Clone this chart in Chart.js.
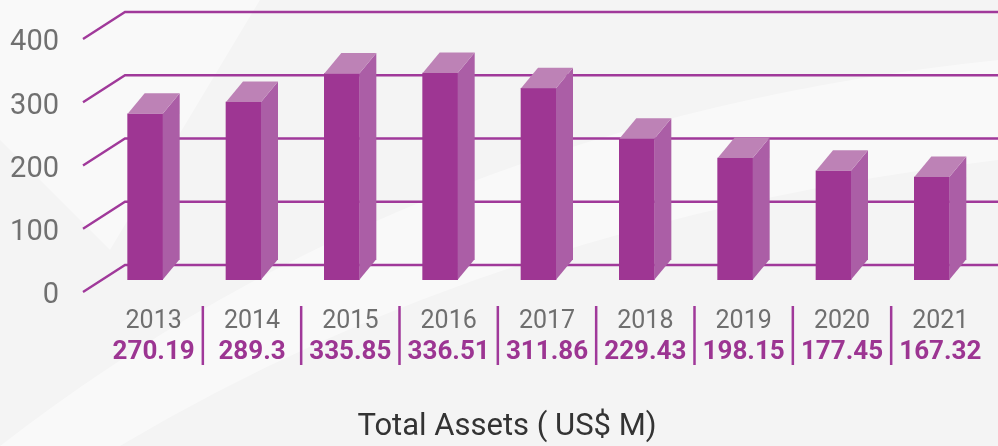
<!DOCTYPE html>
<html>
<head>
<meta charset="utf-8">
<script src="https://cdn.jsdelivr.net/npm/chart.js@4.4.1/dist/chart.umd.min.js"></script>
<style>
    html, body { margin: 0; padding: 0; background: #f4f4f4; }
    canvas { display: block; }
</style>
</head>
<body>
<canvas id="assets-chart" width="998" height="446"></canvas>
<script>
// *** DATA ***
const years = ['2013', '2014', '2015', '2016', '2017', '2018', '2019', '2020', '2021'];
const totalAssets = [270.19, 289.3, 335.85, 336.51, 311.86, 229.43, 198.15, 177.45, 167.32];
const yTicks = [0, 100, 200, 300, 400];
const chartTitle = 'Total Assets ( US$ M)';

// colours / 3d look
const purple = '#9e3693';
const sideColor = '#ab5ea6';
const topColor = '#bd82b6';
const gridColor = '#a0399a';
const depthX = 17;
const depthY = -20.5;

// soft light swooshes behind everything
const bgPlugin = {
    id: 'bg',
    beforeDraw(chart) {
        const ctx = chart.ctx;
        ctx.save();
        ctx.fillStyle = 'rgba(255,255,255,0.45)';
        ctx.beginPath();
        ctx.moveTo(0, 446);
        ctx.quadraticCurveTo(420, 120, 998, 60);
        ctx.lineTo(998, 160);
        ctx.quadraticCurveTo(500, 220, 120, 446);
        ctx.closePath();
        ctx.fill();
        ctx.beginPath();
        ctx.moveTo(0, 0);
        ctx.lineTo(260, 0);
        ctx.lineTo(110, 250);
        ctx.lineTo(0, 140);
        ctx.closePath();
        ctx.fill();
        ctx.restore();
    }
};

// back wall grid (front tick -> diagonal -> horizontal line)
const gridPlugin = {
    id: 'grid3d',
    beforeDatasetsDraw(chart) {
        const ctx = chart.ctx;
        const y = chart.scales.y;
        const x0 = chart.chartArea.left - 13;
        ctx.save();
        ctx.strokeStyle = gridColor;
        ctx.lineWidth = 2.4;
        yTicks.forEach(v => {
            const yf = y.getPixelForValue(v);
            ctx.beginPath();
            ctx.moveTo(x0, yf);
            ctx.lineTo(x0 + 42, yf - 27);
            ctx.lineTo(chart.width, yf - 27);
            ctx.stroke();
        });
        ctx.restore();
    }
};

// side + top faces of the bars
const barsPlugin = {
    id: 'bars3d',
    afterDatasetsDraw(chart) {
        const ctx = chart.ctx;
        const meta = chart.getDatasetMeta(0);
        ctx.save();
        meta.data.forEach(bar => {
            const { x, y, base, width } = bar.getProps(['x', 'y', 'base', 'width'], true);
            const l = x - width / 2;
            const r = x + width / 2;
            // right side
            ctx.fillStyle = sideColor;
            ctx.beginPath();
            ctx.moveTo(r, y);
            ctx.lineTo(r + depthX, y + depthY);
            ctx.lineTo(r + depthX, base + depthY);
            ctx.lineTo(r, base);
            ctx.closePath();
            ctx.fill();
            // top
            ctx.fillStyle = topColor;
            ctx.beginPath();
            ctx.moveTo(l, y);
            ctx.lineTo(l + depthX, y + depthY);
            ctx.lineTo(r + depthX, y + depthY);
            ctx.lineTo(r, y);
            ctx.closePath();
            ctx.fill();
        });
        ctx.restore();
    }
};

// year + value labels under the bars, with separators, and the caption
const labelsPlugin = {
    id: 'labels3d',
    afterDraw(chart) {
        const ctx = chart.ctx;
        const xs = chart.scales.x;
        const bottom = chart.chartArea.bottom;
        ctx.save();
        ctx.textAlign = 'center';
        ctx.textBaseline = 'middle';
        years.forEach((yr, i) => {
            const cx = xs.getPixelForValue(i) + depthX / 2;
            ctx.fillStyle = '#6f6f6f';
            ctx.font = '25px Roboto';
            ctx.fillText(yr, cx, bottom + 30);
            ctx.fillStyle = '#9c3592';
            ctx.font = 'bold 26px Roboto';
            ctx.fillText(String(totalAssets[i]), cx, bottom + 60);
            if (i < years.length - 1) {
                const sx = (cx + xs.getPixelForValue(i + 1) + depthX / 2) / 2;
                ctx.strokeStyle = gridColor;
                ctx.lineWidth = 2.5;
                ctx.beginPath();
                ctx.moveTo(sx, bottom + 14);
                ctx.lineTo(sx, bottom + 73);
                ctx.stroke();
            }
        });
        ctx.fillStyle = '#333333';
        ctx.font = '31px Roboto';
        ctx.fillText(chartTitle, 507, bottom + 135);
        ctx.restore();
    }
};

new Chart(document.getElementById('assets-chart'), {
    type: 'bar',
    data: {
        labels: years,
        datasets: [{
            label: 'Total Assets',
            data: totalAssets,
            backgroundColor: purple,
            barThickness: 35,
            yAxisID: 'yb'
        }]
    },
    options: {
        responsive: false,
        animation: false,
        layout: {
            padding: { left: 0, right: 17, top: 39, bottom: 154 }
        },
        plugins: {
            legend: { display: false },
            tooltip: { enabled: false },
            title: { display: false }
        },
        scales: {
            x: {
                display: false
            },
            y: {
                position: 'left',
                min: 0,
                max: 400,
                afterBuildTicks: scale => {
                    scale.ticks = yTicks.map(v => ({ value: v }));
                },
                afterFit: scale => {
                    scale.width = 96;
                    // tick padding is only meant to push labels left, not down
                    scale.paddingTop = 0;
                    scale.paddingBottom = 0;
                },
                ticks: {
                    color: '#707070',
                    font: { family: 'Roboto', size: 29 },
                    padding: 37,
                    labelOffset: 4
                },
                grid: { display: false, drawTicks: false },
                border: { display: false }
            },
            yb: {
                display: false,
                min: -20,
                max: 392
            }
        }
    },
    plugins: [bgPlugin, gridPlugin, barsPlugin, labelsPlugin]
});
</script>
</body>
</html>
